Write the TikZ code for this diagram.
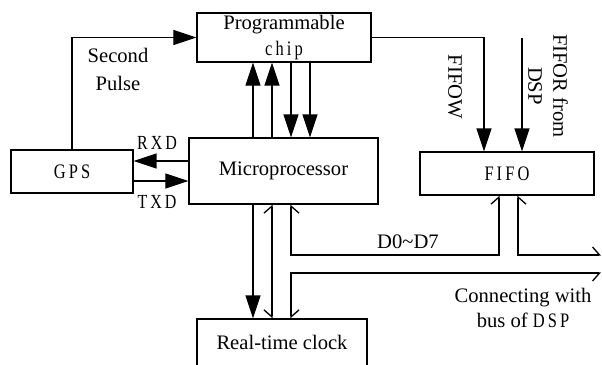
\documentclass[tikz,border=0pt]{standalone}
\usepackage{fontspec}
\setmainfont{Liberation Serif}
\newfontfamily\spfont[FakeStretch=0.8,LetterSpace=15]{Liberation Serif}
\usetikzlibrary{arrows.meta}

\tikzset{
    box/.style={draw, line width=0.65pt, inner sep=0pt, align=center},
    arr/.style={line width=0.65pt, -{Triangle[length=11.5pt,width=7.5pt]}},
    bus/.style={line width=0.65pt},
    lbl/.style={inner sep=0pt, align=center},
    barbL/.tip={Straight Barb[left,length=3.5pt,width=8pt]},
    barbR/.tip={Straight Barb[right,length=3.5pt,width=8pt]}
}

\begin{document}
\begin{tikzpicture}[x=0.5pt, y=-0.5pt, font=\fontsize{10.3}{12.5}\selectfont]
        \useasboundingbox (0,0) rectangle (602,365);
        \node[box, minimum width=87pt, minimum height=24.5pt] (chip) at (284,37.5)
            {Programmable\\[0.5pt]{\spfont chip}};
        \node[box, minimum width=61pt, minimum height=21.5pt] (gps) at (72,171.5) {\spfont GPS};
        \node[box, minimum width=94.5pt, minimum height=33pt] (micro) at (283.5,171) {Microprocessor};
        \node[box, minimum width=87pt, minimum height=21.5pt] (fifo) at (507,173.5) {\spfont FIFO};
        \node[box, minimum width=85pt, minimum height=23.5pt] (rtc) at (282,342.5) {Real-time clock};

        \coordinate (ca) at (253,0);
        \coordinate (cb) at (272,0);
        \coordinate (cc) at (291,0);
        \coordinate (cd) at (310,0);
        \coordinate (rx) at (0,161);
        \coordinate (tx) at (0,181);
        \coordinate (fw) at (484,0);
        \coordinate (fr) at (522,38);
        \coordinate (fa) at (499,255);
        \coordinate (fb) at (518,255);
        \coordinate (ea) at (601,255);
        \coordinate (eb) at (601,273);

        \draw[arr] (gps.north) |- (chip.west);
        \draw[arr] (chip.east) -| (fw |- fifo.north);
        \draw[arr] (fr) -- (fr |- fifo.north);
        \draw[arr] (micro.north -| ca) -- (chip.south -| ca);
        \draw[arr] (micro.north -| cb) -- (chip.south -| cb);
        \draw[arr] (chip.south -| cc) -- (micro.north -| cc);
        \draw[arr] (chip.south -| cd) -- (micro.north -| cd);
        \draw[arr] (micro.west |- rx) -- (gps.east |- rx);
        \draw[arr] (gps.east |- tx) -- (micro.west |- tx);
        \draw[arr] (micro.south -| ca) -- (rtc.north -| ca);

        \draw[bus, barbL-barbR] (micro.south -| cb) -- (rtc.north -| cb);
        \draw[bus, barbR-barbL] (micro.south -| cc) |- (fa) -- (fa |- fifo.south);
        \draw[bus, barbR-barbL] (fb |- fifo.south) -- (fb) -- (ea);
        \draw[bus, barbR-barbL] (eb) -| (rtc.north -| cc);

        \node[lbl] (pulse) at (118,69) {Second\\[1.5pt]Pulse};
        \node[lbl, font=\spfont] (rxdl) at (157,143) {RXD};
        \node[lbl, font=\spfont] (txdl) at (157,202) {TXD};
        \node[lbl, rotate=-90] (fifowl) at (455,87) {FIFOW};
        \node[lbl, rotate=-90] (forl) at (548,86) {FIFOR from\\DSP};
        \node[lbl] (datal) at (408,242) {D0\textasciitilde D7};
        \node[lbl] (busl) at (523,308) {Connecting with\\bus of {\spfont DSP}};
\end{tikzpicture}
\end{document}
